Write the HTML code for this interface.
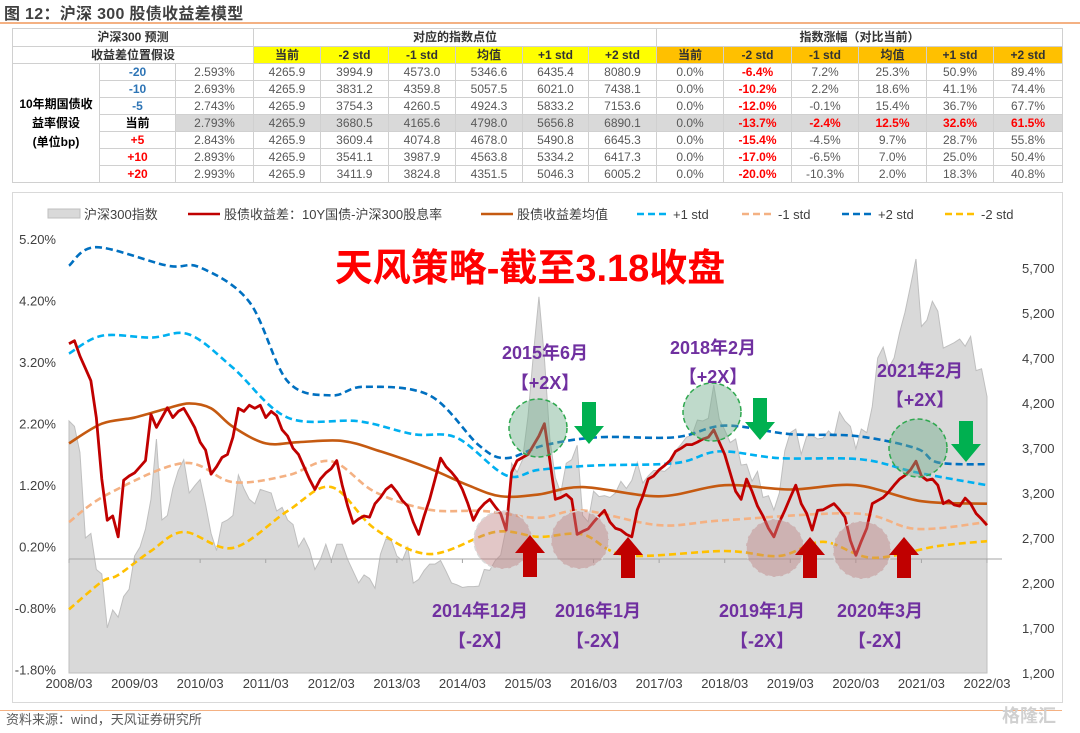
<!DOCTYPE html>
<html><head><meta charset="utf-8">
<style>
body{margin:0;width:1080px;height:733px;background:#fff;overflow:hidden;position:relative;font-family:"Liberation Sans","Noto Sans CJK SC",sans-serif;}
#title{position:absolute;left:4px;top:0;font-size:16px;font-weight:bold;color:#404040;letter-spacing:0.3px}
#tline{position:absolute;left:0;top:22px;width:1080px;height:2px;background:#f4b183}
table{position:absolute;left:12px;top:28px;border-collapse:collapse;table-layout:fixed;font-size:12px;}
td{border:1px solid #d0d0d0;text-align:center;padding:0;height:16px;line-height:15px;color:#595959;white-space:nowrap;overflow:hidden}
td.h{font-weight:bold;color:#333}
.y{background:#ffff00;font-weight:bold;color:#333}
.o{background:#ffc000;font-weight:bold;color:#333}
.g{background:#d9d9d9}
.b{color:#2e75b6;font-weight:bold}
.r{color:#ff0000;font-weight:bold}
#src{position:absolute;left:6px;top:709px;font-size:13px;color:#595959}
#bline{position:absolute;left:0;top:710px;width:1062px;height:1px;background:#f4b183}
</style></head><body>
<div id="title">图 12：沪深 300 股债收益差模型</div>
<div id="tline"></div>
<table>
<colgroup><col style="width:87px"><col style="width:76px"><col style="width:78px"><col style="width:67px"><col style="width:68px"><col style="width:67px"><col style="width:67px"><col style="width:66px"><col style="width:68px"><col style="width:67px"><col style="width:68px"><col style="width:67px"><col style="width:68px"><col style="width:67px"><col style="width:69px"></colgroup>
<tr style="height:18px"><td class="h" colspan="3">沪深300 预测</td><td class="h" colspan="6">对应的指数点位</td><td class="h" colspan="6">指数涨幅（对比当前）</td></tr>
<tr style="height:16px"><td class="h" colspan="3">收益差位置假设</td><td class="y">当前</td><td class="y">-2 std</td><td class="y">-1 std</td><td class="y">均值</td><td class="y">+1 std</td><td class="y">+2 std</td><td class="o">当前</td><td class="o">-2 std</td><td class="o">-1 std</td><td class="o">均值</td><td class="o">+1 std</td><td class="o">+2 std</td></tr>
<tr><td class="h" rowspan="7" style="white-space:normal;line-height:19px;color:#000">10年期国债收<br>益率假设<br>(单位bp)</td><td class="b">-20</td><td>2.593%</td><td>4265.9</td><td>3994.9</td><td>4573.0</td><td>5346.6</td><td>6435.4</td><td>8080.9</td><td>0.0%</td><td class="r">-6.4%</td><td>7.2%</td><td>25.3%</td><td>50.9%</td><td>89.4%</td></tr>
<tr><td class="b">-10</td><td>2.693%</td><td>4265.9</td><td>3831.2</td><td>4359.8</td><td>5057.5</td><td>6021.0</td><td>7438.1</td><td>0.0%</td><td class="r">-10.2%</td><td>2.2%</td><td>18.6%</td><td>41.1%</td><td>74.4%</td></tr>
<tr><td class="b">-5</td><td>2.743%</td><td>4265.9</td><td>3754.3</td><td>4260.5</td><td>4924.3</td><td>5833.2</td><td>7153.6</td><td>0.0%</td><td class="r">-12.0%</td><td>-0.1%</td><td>15.4%</td><td>36.7%</td><td>67.7%</td></tr>
<tr><td class="h" style="color:#000">当前</td><td class="g">2.793%</td><td class="g">4265.9</td><td class="g">3680.5</td><td class="g">4165.6</td><td class="g">4798.0</td><td class="g">5656.8</td><td class="g">6890.1</td><td class="g">0.0%</td><td class="g r">-13.7%</td><td class="g r">-2.4%</td><td class="g r">12.5%</td><td class="g r">32.6%</td><td class="g r">61.5%</td></tr>
<tr><td class="r">+5</td><td>2.843%</td><td>4265.9</td><td>3609.4</td><td>4074.8</td><td>4678.0</td><td>5490.8</td><td>6645.3</td><td>0.0%</td><td class="r">-15.4%</td><td>-4.5%</td><td>9.7%</td><td>28.7%</td><td>55.8%</td></tr>
<tr><td class="r">+10</td><td>2.893%</td><td>4265.9</td><td>3541.1</td><td>3987.9</td><td>4563.8</td><td>5334.2</td><td>6417.3</td><td>0.0%</td><td class="r">-17.0%</td><td>-6.5%</td><td>7.0%</td><td>25.0%</td><td>50.4%</td></tr>
<tr><td class="r">+20</td><td>2.993%</td><td>4265.9</td><td>3411.9</td><td>3824.8</td><td>4351.5</td><td>5046.3</td><td>6005.2</td><td>0.0%</td><td class="r">-20.0%</td><td>-10.3%</td><td>2.0%</td><td>18.3%</td><td>40.8%</td></tr>
</table>

<svg id="chart" width="1080" height="733" style="position:absolute;left:0;top:0" font-family="Liberation Sans, Noto Sans CJK SC, sans-serif"></svg>
<div id="bline"></div>
<div id="src">资料来源：wind，天风证券研究所</div>
<div style="position:absolute;left:1002px;top:702px;font-size:18px;color:#d0d0d0;font-weight:bold;font-family:'Noto Sans CJK SC',sans-serif">格隆汇</div>

<script>
// ---- data (monthly from 2008-03 to 2022-03) ----
const startMonth = "2008-03";
const xTickLabels = ["2008/03","2009/03","2010/03","2011/03","2012/03","2013/03","2014/03","2015/03","2016/03","2017/03","2018/03","2019/03","2020/03","2021/03","2022/03"];
const leftTicks = [5.2,4.2,3.2,2.2,1.2,0.2,-0.8,-1.8];
const rightTicks = [5700,5200,4700,4200,3700,3200,2700,2200,1700,1200];
const csi300 = [4000,3940,3650,2700,2750,2350,2300,1700,1900,1820,
2050,2130,2500,2600,2800,3130,3800,2900,2950,3250,3450,3570,
3200,3280,3350,3070,2750,2560,2870,2900,2950,3400,3250,3130,
3080,3240,3220,3200,3000,3040,2900,2850,2600,2700,2570,2350,
2460,2630,2450,2630,2630,2460,2330,2200,2290,2250,2140,2520,
2690,2670,2500,2450,2600,2200,2240,2340,2410,2410,2450,2330,
2200,2180,2150,2160,2160,2165,2350,2340,2450,2510,2810,3530,
3430,3570,4050,4750,5380,4700,3800,3370,3200,3530,3570,3730,
2950,2880,3220,3160,3170,3150,3200,3330,3250,3340,3540,3310,
3390,3450,3450,3440,3490,3670,3740,3820,3840,4010,4000,4030,
4400,4020,3900,3760,3800,3510,3520,3330,3440,3150,3170,3010,
3200,3670,3870,3910,3630,3830,3840,3800,3810,3890,3830,4100,
4000,3940,3690,3910,3870,4160,4700,4820,4590,4700,4980,5210,
5500,5800,5050,5120,5330,5220,4810,4840,4870,4910,4830,4940,
4560,4580,4270];
const yieldGap = [3.5,3.55,3.3,3.1,2.9,2.3,1.3,0.63,0.7,0.36,1.28,1.35,1.4,1.5,1.6,2.35,2.14,2.3,2.46,2.3,2.4,2.45,2.3,2.14,1.9,1.77,1.38,1.5,1.65,1.7,1.98,
2.45,2.4,2.5,2.45,2.5,2.3,2.4,2.33,2.1,2.0,1.8,1.7,1.5,1.3,1.13,1.3,1.4,1.47,1.6,1.2,0.86,0.58,0.65,0.7,0.68,0.9,1.0,1.13,1.2,1.09,0.95,0.86,0.6,0.4,0.7,0.97,1.3,1.64,1.5,1.41,1.3,1.13,0.9,0.63,0.8,0.9,0.97,0.85,0.74,0.47,1.41,1.6,1.65,1.7,1.85,2.0,2.2,
1.6,0.97,1.0,1.05,0.97,0.4,0.45,0.49,0.6,0.7,0.79,0.6,0.5,0.47,0.4,0.36,0.8,1.02,1.3,1.35,1.45,1.52,1.6,1.75,1.8,1.86,1.86,1.9,1.95,1.98,2.1,1.9,1.7,1.4,1.1,0.97,1.3,1.1,0.86,0.7,0.5,0.36,0.6,0.79,1.0,1.2,0.9,0.74,0.47,0.79,0.8,0.85,0.9,0.8,0.68,0.3,0.06,0.29,0.5,0.9,0.95,1.0,1.09,1.2,1.3,1.36,1.45,1.59,1.35,1.28,1.3,1.2,0.9,0.95,0.88,0.86,0.99,0.9,0.74,0.65,0.55];
const meanDates = ["2008-03","2008-09","2009-03","2009-09","2010-01","2010-05","2010-09","2011-03","2011-09","2012-05","2012-12","2013-09","2014-04","2014-10","2015-05","2016-01","2017-03","2018-03","2019-03","2020-03","2021-03","2022-03"];
const meanVals = [1.88,2.2,2.3,2.45,2.53,2.45,2.15,1.88,1.9,1.92,1.75,1.47,1.2,1.02,1.05,1.17,1.02,1.2,1.13,1.2,0.94,0.9];
const p1Dates = ["2008-03","2008-09","2009-06","2010-01","2010-09","2011-07","2012-08","2013-06","2014-02","2014-11","2015-05","2016-03","2017-06","2018-02","2019-01","2020-04","2021-02","2022-03"];
const p1Vals = [3.34,3.63,3.6,3.65,3.11,2.3,2.24,2.03,1.97,1.36,1.45,1.52,1.56,1.75,1.64,1.62,1.41,1.2];
const p2Dates = ["2008-03","2008-08","2009-09","2010-03","2010-12","2011-07","2012-03","2012-09","2013-09","2014-06","2014-11","2015-06","2016-04","2017-06","2018-03","2019-03","2020-03","2021-02","2021-06","2022-03"];
const p2Vals = [4.77,5.07,4.77,4.74,4.18,2.89,2.66,2.8,2.66,1.85,1.64,1.85,1.98,1.98,2.17,2.03,2.0,1.8,1.57,1.54];
const m1Dates = ["2008-03","2008-10","2009-12","2010-09","2011-07","2012-03","2012-11","2013-09","2014-07","2015-05","2016-01","2017-03","2018-03","2020-03","2021-02","2022-03"];
const m1Vals = [0.6,1.05,1.56,1.25,1.36,1.59,1.09,0.8,0.78,0.67,0.79,0.55,0.63,0.74,0.49,0.6];
const m2Dates = ["2008-03","2008-09","2008-12","2009-06","2009-12","2010-09","2011-07","2012-03","2012-11","2013-09","2014-09","2015-05","2016-01","2016-09","2018-03","2019-01","2019-09","2020-06","2021-06","2022-03"];
const m2Vals = [-0.82,-0.37,-0.26,0.13,0.44,0.18,0.78,1.17,0.49,0.08,0.44,0.36,0.4,0.06,0.13,0.05,0.28,0.02,0.21,0.29];

const NS="http://www.w3.org/2000/svg";
const svg=document.getElementById('chart');
const X0=69,X1=987,NM=168;
function monthIdx(s){const [y,m]=s.split('-').map(Number);const [y0,m0]=startMonth.split('-').map(Number);return (y-y0)*12+(m-m0);}
function xs(m){return X0+m*(X1-X0)/NM;}
function yL(v){return 559-v*61.5;}
function yR(p){return 673-(p-1200)*0.09;}
function mk(tag,attrs,parent){const e=document.createElementNS(NS,tag);for(const k in attrs)e.setAttribute(k,attrs[k]);(parent||svg).appendChild(e);return e;}
function smooth(pts){let d=`M${pts[0][0]},${pts[0][1]}`;for(let i=0;i<pts.length-1;i++){const p0=pts[i-1]||pts[i],p1=pts[i],p2=pts[i+1],p3=pts[i+2]||p2;const c1x=p1[0]+(p2[0]-p0[0])/6,c1y=p1[1]+(p2[1]-p0[1])/6,c2x=p2[0]-(p3[0]-p1[0])/6,c2y=p2[1]-(p3[1]-p1[1])/6;d+=` C${c1x},${c1y} ${c2x},${c2y} ${p2[0]},${p2[1]}`;}return d;}

// frame
const frame=mk('rect',{x:12.5,y:192.5,width:1050,height:510,fill:'none',stroke:'#d9d9d9'});



// area
let ad=`M${xs(0)},673`;csi300.forEach((v,i)=>{ad+=` L${xs(i)},${yR(v)}`;});ad+=` L${xs(csi300.length-1)},673 Z`;
const area=mk('path',{d:ad,fill:'#d9d9d9',stroke:'#bfbfbf','stroke-width':1});



// zero axis line
const zl=mk('line',{x1:69,x2:1002,y1:yL(0),y2:yL(0),stroke:'#a6a6a6','stroke-width':1});



function band(dates,vals,color,name,dash,w){
  const pts=dates.map((d,i)=>[xs(monthIdx(d)),yL(vals[i])]);
  const p=mk('path',{d:smooth(pts),fill:'none',stroke:color,'stroke-width':w||2.6});
  if(dash)p.setAttribute('stroke-dasharray',dash);
  
  
}
band(m2Dates,m2Vals,'#ffc000','minus-2std-line','7,4');
band(m1Dates,m1Vals,'#f4b183','minus-1std-line','7,4');
band(p2Dates,p2Vals,'#0070c0','plus-2std-line','7,4');
band(p1Dates,p1Vals,'#00b0f0','plus-1std-line','7,4');
band(meanDates,meanVals,'#c55a11','mean-line',null,2.6);

let rd='';yieldGap.forEach((v,i)=>{rd+=(i?' L':'M')+xs(i)+','+yL(v);});
const red=mk('path',{d:rd,fill:'none',stroke:'#c00000','stroke-width':2.8,'stroke-linejoin':'round'});



// axes labels
leftTicks.forEach(v=>{const t=mk('text',{x:56,y:yL(v)+5,'text-anchor':'end','font-size':13,fill:'#404040'});t.textContent=v.toFixed(2)+'%';

});
rightTicks.forEach(v=>{const t=mk('text',{x:1022,y:yR(v)+5,'font-size':13,fill:'#404040'});t.textContent=v.toLocaleString('en-US');

});
xTickLabels.forEach((s,i)=>{const m=monthIdx(s.replace('/','-'));const t=mk('text',{x:xs(m),y:688,'text-anchor':'middle','font-size':13,fill:'#404040'});t.textContent=s;


const tk=mk('line',{x1:xs(m),x2:xs(m),y1:yL(0),y2:yL(0)+4,stroke:'#a6a6a6'});

});

// legend
const lg=mk('g',{});


function legItem(x,label,kind,color,name){
  const g=mk('g',{},lg);
  
  
  if(kind==='area')mk('rect',{x:x,y:209,width:32,height:9,fill:'#d9d9d9',stroke:'#bfbfbf'},g);
  else{const l=mk('line',{x1:x,x2:x+32,y1:214,y2:214,stroke:color,'stroke-width':2.6},g);if(kind==='dash')l.setAttribute('stroke-dasharray','7,4');}
  const t=mk('text',{x:x+36,y:219,'font-size':13,fill:'#404040'},g);t.textContent=label;
}
legItem(48,'沪深300指数','area','', 'legend-csi300');
legItem(188,'股债收益差：10Y国债-沪深300股息率','line','#c00000','legend-yield-gap');
legItem(481,'股债收益差均值','line','#c55a11','legend-mean');
legItem(637,'+1 std','dash','#00b0f0','legend-plus-1std');
legItem(742,'-1 std','dash','#f4b183','legend-minus-1std');
legItem(842,'+2 std','dash','#0070c0','legend-plus-2std');
legItem(945,'-2 std','dash','#ffc000','legend-minus-2std');

// big title
const bt=mk('text',{x:530,y:281,'text-anchor':'middle','font-size':38,'font-weight':'bold',fill:'#ff0000'});
bt.textContent='天风策略-截至3.18收盘';



// annotations
[[538,428],[712,412],[918,448]].forEach(c=>{const e=mk('circle',{cx:c[0],cy:c[1],r:29,fill:'rgba(112,173,140,0.45)',stroke:'#2fa84f','stroke-width':1.5,'stroke-dasharray':'5,3'});

});
[[503,540],[580,540],[775,548],[862,550]].forEach(c=>{const e=mk('circle',{cx:c[0],cy:c[1],r:29,fill:'rgba(190,130,130,0.45)',stroke:'#d9d9d9','stroke-width':1.5,'stroke-dasharray':'5,3'});

});
function arrow(cx,top,bot,down,color){
  const hw=15,sw=7,hh=18;let pts;
  if(down)pts=[[cx-sw,top],[cx+sw,top],[cx+sw,bot-hh],[cx+hw,bot-hh],[cx,bot],[cx-hw,bot-hh],[cx-sw,bot-hh]];
  else pts=[[cx-sw,bot],[cx+sw,bot],[cx+sw,top+hh],[cx+hw,top+hh],[cx,top],[cx-hw,top+hh],[cx-sw,top+hh]];
  const p=mk('polygon',{points:pts.map(q=>q.join(',')).join(' '),fill:color});
  
  
}
arrow(589,402,444,true,'#00b050');arrow(760,398,440,true,'#00b050');arrow(966,421,462,true,'#00b050');
arrow(530,535,577,false,'#c00000');arrow(628,537,578,false,'#c00000');arrow(810,537,578,false,'#c00000');arrow(904,537,578,false,'#c00000');
[[545,359,'2015年6月'],[545,389,'【+2X】'],[713,354,'2018年2月'],[713,383,'【+2X】'],[920,377,'2021年2月'],[920,406,'【+2X】'],
 [480,617,'2014年12月'],[480,647,'【-2X】'],[598,617,'2016年1月'],[598,647,'【-2X】'],[762,617,'2019年1月'],[762,647,'【-2X】'],[880,617,'2020年3月'],[880,647,'【-2X】']].forEach(a=>{
 const t=mk('text',{x:a[0],y:a[1],'text-anchor':'middle','font-size':18,'font-weight':'bold',fill:'#7030a0'});t.textContent=a[2];
 
 });
</script>
</body></html>
